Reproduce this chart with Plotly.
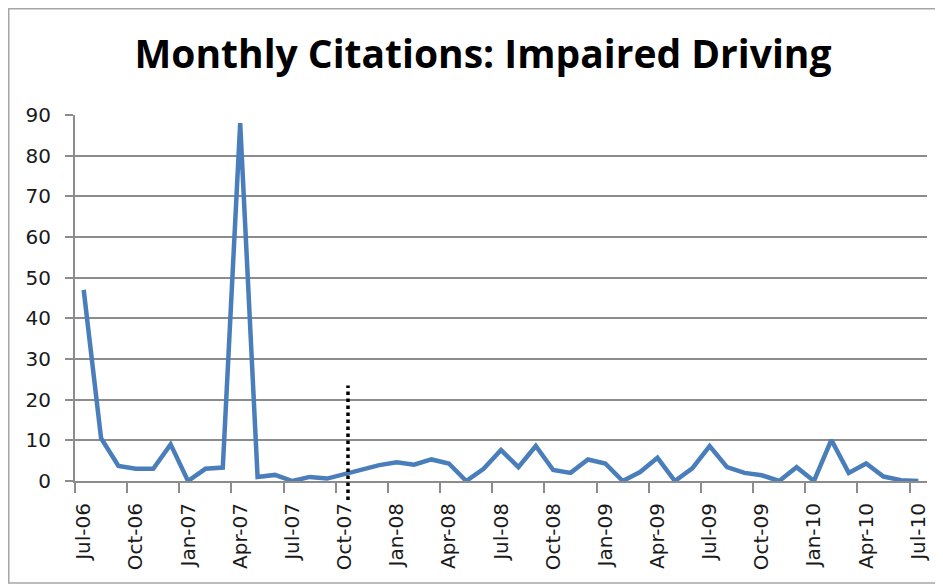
import plotly.graph_objects as go

months = [
    "Jul-06", "Aug-06", "Sep-06", "Oct-06", "Nov-06", "Dec-06",
    "Jan-07", "Feb-07", "Mar-07", "Apr-07", "May-07", "Jun-07",
    "Jul-07", "Aug-07", "Sep-07", "Oct-07", "Nov-07", "Dec-07",
    "Jan-08", "Feb-08", "Mar-08", "Apr-08", "May-08", "Jun-08",
    "Jul-08", "Aug-08", "Sep-08", "Oct-08", "Nov-08", "Dec-08",
    "Jan-09", "Feb-09", "Mar-09", "Apr-09", "May-09", "Jun-09",
    "Jul-09", "Aug-09", "Sep-09", "Oct-09", "Nov-09", "Dec-09",
    "Jan-10", "Feb-10", "Mar-10", "Apr-10", "May-10", "Jun-10",
    "Jul-10",
]
citations = [
    47, 10.5, 3.7, 3, 3, 9, 0, 3, 3.3, 88, 1, 1.5,
    0, 1, 0.6, 1.7, 3, 3.9, 4.6, 4, 5.3, 4.3, 0, 3,
    7.6, 3.4, 8.6, 2.7, 2, 5.3, 4.3, 0, 2.2, 5.7, 0, 3.1,
    8.6, 3.4, 2, 1.4, 0, 3.4, 0, 10.1, 2, 4.3, 1.1, 0.2,
    0,
]
y_ticks = [0, 10, 20, 30, 40, 50, 60, 70, 80, 90]
marker_x = 15.2      # position of the dotted marker (just after Oct-07)
marker_top = 23.5    # top of the dotted marker in citation units

x_idx = list(range(len(months)))
label_idx = x_idx[::3]
label_txt = months[::3]
y_max = 90

# the page body adds an 8px offset, so the figure is 8px smaller
W, H = 935, 578
ML, MR, MT, MB = 67, 16, 107, 105
PW, PH = W - ML - MR, H - MT - MB

fig = go.Figure()
fig.add_trace(go.Scatter(
    x=x_idx, y=citations, mode="lines",
    line=dict(color="#4a7ebb", width=4.5),
    hoverinfo="skip", showlegend=False,
))

fig.add_shape(
    type="line", xref="x", yref="paper",
    x0=marker_x, x1=marker_x, y0=-19 / PH, y1=marker_top / y_max,
    line=dict(color="black", width=3.5, dash="dot"),
)
# chart frame
fig.add_shape(
    type="rect", xref="paper", yref="paper",
    x0=-(ML - 0.75) / PW, x1=1 + (MR + 20) / PW,
    y0=-(MB - 3) / PH, y1=1 + (MT - 0.75) / PH,
    line=dict(color="#a6a6a6", width=1.5), layer="below",
)

fig.update_layout(
    width=W, height=H,
    margin=dict(l=ML, r=MR, t=MT, b=MB, autoexpand=False),
    paper_bgcolor="white", plot_bgcolor="white",
    title=dict(
        text="<b>Monthly Citations: Impaired Driving</b>",
        font=dict(family="Open Sans", size=39, color="black"),
        xref="container", x=475 / W, xanchor="center",
        yref="container", y=1 - 46.5 / H, yanchor="middle",
        automargin=False,
    ),
    xaxis=dict(
        range=[-0.5, len(months) - 0.5],
        tickmode="array", tickvals=label_idx, ticktext=label_txt,
        ticks="", tickangle=-90,
        tickfont=dict(family="DejaVu Sans", size=20, color="#1a1a1a"),
        ticklabelstandoff=12, automargin=False,
        showgrid=False, zeroline=False,
        showline=True, linecolor="#8c8c8c", linewidth=2,
        minor=dict(tickmode="linear", tick0=-0.5, dtick=3,
                   ticks="outside", ticklen=10, tickwidth=2,
                   tickcolor="#8c8c8c", showgrid=False),
    ),
    yaxis=dict(
        range=[0, y_max],
        tickmode="array", tickvals=y_ticks,
        ticks="outside", ticklen=8, tickwidth=2, tickcolor="#8c8c8c",
        tickfont=dict(family="DejaVu Sans", size=20, color="#1a1a1a"),
        ticklabelstandoff=10, automargin=False,
        showgrid=True, gridcolor="#8c8c8c", gridwidth=2,
        zeroline=False,
        showline=True, linecolor="#8c8c8c", linewidth=2,
    ),
)

fig.write_html("out.html")
